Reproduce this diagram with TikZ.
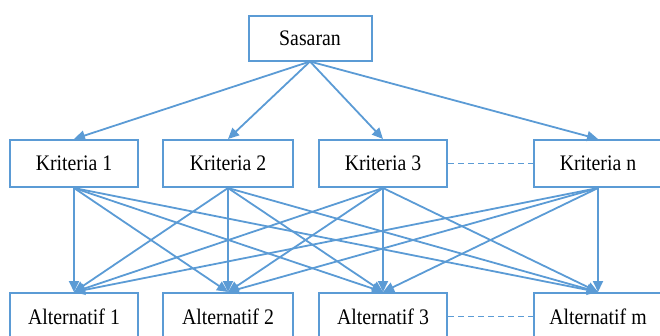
\documentclass[tikz,border=0pt]{standalone}
\usepackage{fontspec}
\setmainfont{Liberation Serif}
\usetikzlibrary{arrows.meta}
\definecolor{lineblue}{RGB}{91,155,213}
\newcommand{\boxtext}[1]{\scalebox{1}[1.12]{\fontsize{19.8}{23}\selectfont #1}}
\begin{document}
\begin{tikzpicture}[x=1pt,y=-1pt,
  box/.style={draw=lineblue,line width=2pt,fill=white,minimum height=47pt,
    inner sep=0pt,text=black},
  link/.style={draw=lineblue,line width=1.8pt,-{Triangle[length=11pt,width=10pt]}},
  gap/.style={draw=lineblue,line width=1.2pt,dash pattern=on 6pt off 4pt}]
\useasboundingbox (0,0) rectangle (660,335);
\clip (0,0) rectangle (660,335);
% goal
\node[box,minimum width=123pt,minimum height=45pt] (goal) at (310,38) {\boxtext{Sasaran}};
% criteria
\node[box,minimum width=128pt] (k1) at (74,163.5) {\boxtext{Kriteria 1}};
\node[box,minimum width=130pt] (k2) at (228,163.5) {\boxtext{Kriteria 2}};
\node[box,minimum width=128pt] (k3) at (383,163.5) {\boxtext{Kriteria 3}};
\node[box,minimum width=128pt] (kn) at (598,163.5) {\boxtext{Kriteria n}};
% alternatives
\node[box,minimum width=128pt] (a1) at (74,316.5) {\boxtext{Alternatif 1}};
\node[box,minimum width=130pt] (a2) at (228,316.5) {\boxtext{Alternatif 2}};
\node[box,minimum width=128pt] (a3) at (383,316.5) {\boxtext{Alternatif 3}};
\node[box,minimum width=128pt] (am) at (598,316.5) {\boxtext{Alternatif m}};
% goal to criteria
\foreach \k in {k1,k2,k3,kn}
  \draw[link] (goal.south) -- (\k.north);
% criteria to alternatives
\foreach \k in {k1,k2,k3,kn}
  \foreach \a in {a1,a2,a3,am}
    \draw[link] (\k.south) -- (\a.north);
% elided members
\draw[gap] (k3.east) -- (kn.west);
\draw[gap] (a3.east) -- (am.west);
\end{tikzpicture}
\end{document}
